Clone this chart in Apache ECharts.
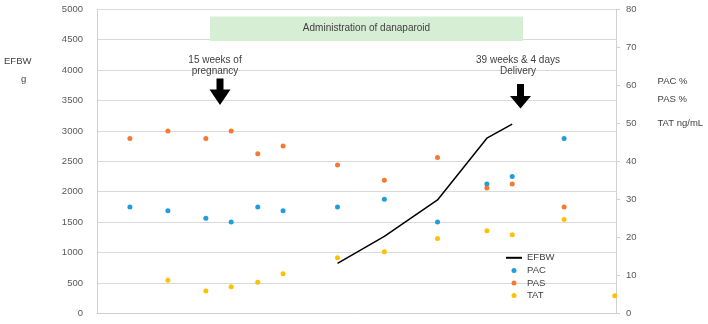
<!DOCTYPE html>
<html>
<head>
<meta charset="utf-8">
<style>
  html, body { margin: 0; padding: 0; background: #fff; }
  #chart { width: 708px; height: 324px; }
</style>
<script src="https://cdn.jsdelivr.net/npm/echarts@6/dist/echarts.min.js"></script>
</head>
<body>
<div id="chart"></div>
<script>
// x positions (weeks from start of chart)
const xPac = [2.6, 5.6, 8.6, 10.6, 12.7, 14.7, 19.0, 22.7, 26.9, 30.8, 32.8, 36.9];
const pacValues = [28, 27, 25, 24, 28, 27, 28, 30, 24, 34, 36, 46];
const pasValues = [46, 48, 46, 48, 42, 44, 39, 35, 41, 33, 34, 28];

const xTat = [5.6, 8.6, 10.6, 12.7, 14.7, 19.0, 22.7, 26.9, 30.8, 32.8, 36.9, 40.9];
const tatValues = [8.7, 5.9, 7.0, 8.2, 10.4, 14.6, 16.2, 19.7, 21.7, 20.7, 24.7, 4.6];

const xEfbw = [19.0, 22.7, 26.9, 30.8, 32.8];
const efbwValues = [820, 1265, 1865, 2880, 3110];

const leftTicks = [0, 500, 1000, 1500, 2000, 2500, 3000, 3500, 4000, 4500, 5000];
const rightTicks = [0, 10, 20, 30, 40, 50, 60, 70, 80];

const FONT = "Liberation Sans, Arial, sans-serif";
const TXT = "#404040";

const zip = (xs, ys) => xs.map((x, i) => [x, ys[i]]);

// simple down arrow shape
const arrow = (cx, top, headTop, tip) => ({
    type: "polygon",
    shape: {
        points: [
            [cx - 3.5, top], [cx + 3.5, top], [cx + 3.5, headTop], [cx + 10.5, headTop],
            [cx, tip], [cx - 10.5, headTop], [cx - 3.5, headTop]
        ]
    },
    style: { fill: "#000" },
    z: 100
});

const label = (x, y, text, align, size) => ({
    type: "text",
    x: x,
    y: y,
    style: {
        text: text,
        fill: TXT,
        font: (size || 9.5) + "px " + FONT,
        align: align || "left",
        verticalAlign: "middle"
    },
    z: 100
});

const chart = echarts.init(document.getElementById("chart"));

chart.setOption({
    animation: false,
    grid: { left: 97, right: 92, top: 9.3, bottom: 10.7 },
    legend: {
        orient: "vertical",
        left: 505,
        top: 251.5,
        padding: 0,
        itemWidth: 16,
        itemHeight: 5,
        itemGap: 0,
        textStyle: { fontFamily: FONT, fontSize: 9.5, color: TXT, lineHeight: 12.6 },
        data: [
            { name: "EFBW", itemStyle: { opacity: 0 } },
            "PAC", "PAS", "TAT"
        ]
    },
    xAxis: {
        type: "value",
        min: 0,
        max: 41,
        axisLine: { show: true, onZero: false, lineStyle: { color: "#d0d0d0" } },
        axisTick: { show: false },
        axisLabel: { show: false },
        splitLine: { show: false }
    },
    yAxis: [
        {
            type: "value",
            min: leftTicks[0],
            max: leftTicks[leftTicks.length - 1],
            interval: 500,
            axisLine: { show: true, lineStyle: { color: "#d0d0d0" } },
            axisTick: { show: false },
            axisLabel: {
                margin: 14, color: "#595959", fontFamily: FONT, fontSize: 9.5,
                formatter: v => String(v)
            },
            splitLine: { show: true, lineStyle: { color: "#d9d9d9" } }
        },
        {
            type: "value",
            position: "right",
            min: rightTicks[0],
            max: rightTicks[rightTicks.length - 1],
            interval: 10,
            axisLine: { show: true, lineStyle: { color: "#d0d0d0" } },
            axisTick: { show: true, length: 4, lineStyle: { color: "#d0d0d0" } },
            axisLabel: {
                margin: 10, color: "#595959", fontFamily: FONT, fontSize: 9.5,
                formatter: v => String(v)
            },
            splitLine: { show: false }
        }
    ],
    series: [
        {
            name: "EFBW",
            type: "line",
            yAxisIndex: 0,
            data: zip(xEfbw, efbwValues),
            symbol: "none",
            lineStyle: { color: "#000", width: 1.5 },
            itemStyle: { color: "#000" },
            z: 3
        },
        {
            name: "PAC",
            type: "scatter",
            yAxisIndex: 1,
            data: zip(xPac, pacValues),
            symbolSize: 5,
            itemStyle: { color: "#1f9ddc", opacity: 1 }
        },
        {
            name: "PAS",
            type: "scatter",
            yAxisIndex: 1,
            data: zip(xPac, pasValues),
            symbolSize: 5,
            itemStyle: { color: "#f47a30", opacity: 1 }
        },
        {
            name: "TAT",
            type: "scatter",
            yAxisIndex: 1,
            data: zip(xTat, tatValues),
            symbolSize: 5,
            itemStyle: { color: "#ffc000", opacity: 1 }
        }
    ],
    graphic: [
        {
            type: "rect",
            shape: { x: 210, y: 16.5, width: 313, height: 24.5 },
            style: { fill: "#d6eed4" },
            z: 90
        },
        label(366.5, 28.5, "Administration of danaparoid", "center", 10),
        label(215, 60, "15 weeks of", "center", 10),
        label(215, 71, "pregnancy", "center", 10),
        arrow(220, 78.5, 89.5, 105),
        label(518, 60, "39 weeks & 4 days", "center", 10),
        label(518, 71, "Delivery", "center", 10),
        arrow(520.5, 84, 96, 108.5),
        label(4, 61, "EFBW"),
        label(21, 79, "g"),
        label(657.5, 81, "PAC %"),
        label(657.5, 99, "PAS %"),
        label(657.5, 123.5, "TAT ng/mL")
    ]
});
</script>
</body>
</html>
